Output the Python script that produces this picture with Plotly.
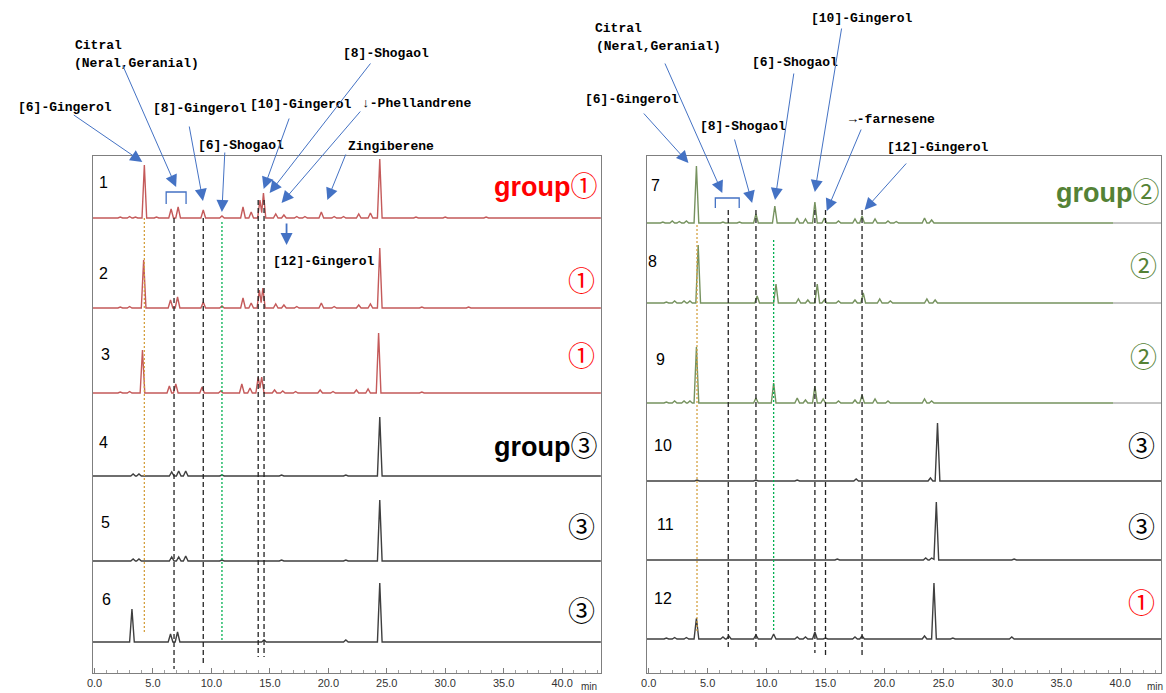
import plotly.graph_objects as go

W, H = 1166, 693

# ---------------- data: peak tables (retention time [min], peak height) ----------------
# Left panel (samples 1-6)
s1_t = [2.2, 3.0, 3.5, 4.26, 5.3, 6.55, 7.15, 9.3, 10.9, 12.7, 13.4, 14.15, 14.45, 15.5, 16.2, 17.3, 18.0, 19.4, 20.5, 21.3, 22.6, 23.6, 24.4, 27.5, 30.0, 33.5]
s1_h = [1, 1.5, 1, 53, 1, 9, 11, 8, 2, 11, 6, 18, 25, 4, 3, 1.5, 1.5, 6, 1.5, 1.5, 4, 5, 59, 1, 1, 1]
s2_t = [2.2, 3.0, 4.2, 6.5, 7.1, 9.3, 10.9, 12.7, 13.4, 14.1, 14.4, 15.5, 16.2, 17.3, 19.4, 20.5, 22.6, 23.6, 24.4, 28.0, 32.0]
s2_h = [1, 1.5, 48, 8, 11, 6, 2, 10, 5, 18, 20, 4, 3, 1.5, 5, 1.5, 3, 4, 60, 1, 1]
s3_t = [2.2, 3.0, 4.1, 6.4, 6.95, 9.2, 10.8, 12.6, 13.3, 14.0, 14.3, 15.4, 16.1, 17.2, 19.3, 20.4, 22.4, 23.4, 24.3, 28.0]
s3_h = [1, 1.5, 43, 7, 9, 6, 2, 9, 5, 16, 16, 3, 2, 1.5, 3, 1.5, 3, 4, 60, 1]
s4_t = [3.3, 3.8, 6.6, 7.2, 7.8, 10.9, 16.0, 21.5, 24.4]
s4_h = [2, 2, 4, 5, 5, 1, 1, 1, 59]
s5_t = [3.3, 3.8, 6.6, 7.2, 7.8, 10.9, 16.0, 21.5, 24.4]
s5_h = [2, 2, 4, 4, 5, 1, 1, 1, 61]
s6_t = [3.2, 6.5, 7.1, 14.5, 21.5, 24.4]
s6_h = [33, 8, 10, 2, 2, 59]

# Right panel (samples 7-12)
s7_t = [1.2, 2.0, 2.6, 3.2, 4.05, 6.3, 7.7, 9.1, 10.7, 12.6, 13.3, 14.1, 14.9, 16.1, 17.5, 18.1, 19.2, 20.3, 21.0, 23.4, 24.0]
s7_h = [1, 2, 1.5, 2, 57, 1, 1, 9, 17, 5, 4, 21, 5, 2, 4, 7, 4, 2, 1.5, 5, 3]
s8_t = [1.5, 2.2, 3.0, 3.5, 4.2, 9.2, 10.8, 12.7, 13.5, 14.3, 14.9, 16.1, 17.5, 18.2, 19.6, 20.5, 23.6, 24.3]
s8_h = [1, 2, 2, 2, 58, 7, 19, 4, 3, 19, 3, 2, 3, 10, 4, 2, 4, 3]
s9_t = [1.5, 2.2, 3.0, 3.5, 4.05, 9.1, 10.6, 12.6, 13.3, 14.1, 14.8, 16.1, 17.5, 18.1, 19.2, 20.3, 23.4, 24.0]
s9_h = [1, 2, 2, 2, 56, 5, 20, 5, 3, 17, 4, 2, 3, 8, 4, 2, 4, 2]
s10_t = [4.1, 9.1, 12.6, 17.6, 23.9, 24.5]
s10_h = [1, 1, 1, 2, 3, 58]
s11_t = [16.0, 23.5, 24.0, 24.4, 31.0]
s11_h = [1, 2, 2, 58, 1]
s12_t = [1.5, 2.2, 3.2, 4.05, 6.3, 6.8, 9.1, 10.6, 12.6, 13.3, 14.1, 15.0, 17.5, 18.1, 23.4, 24.2, 25.8, 30.8]
s12_h = [1, 1.5, 1.5, 21, 2, 3, 4, 5, 2, 2, 7, 1, 2, 3, 3, 56, 1, 2]

sample_labels = ["1", "2", "3", "4", "5", "6", "7", "8", "9", "10", "11", "12"]
group_labels = ["group①", "①", "①", "group③", "③", "③", "group②", "②", "②", "③", "③", "①"]

# marker (dashed) retention times
left_marks = [4.26, 6.8, 9.3, 10.9, 14.0, 14.5]
right_marks = [4.1, 6.75, 9.1, 10.6, 14.1, 15.0, 18.1]

tick_vals = [0, 5, 10, 15, 20, 25, 30, 35, 40]
tick_text = ["0.0", "5.0", "10.0", "15.0", "20.0", "25.0", "30.0", "35.0", "40.0"]

# ---------------- layout helpers ----------------
def px(x):
    return x / W

def py(y):
    return 1 - y / H

L_X0, L_X1, L_T0, L_PPM = 87, 598, 89, 11.75
R_X0, R_X1, R_T0, R_PPM = 644, 1161, 646, 11.85
TOP, BOT = 156, 673
l_range = [(L_X0 - L_T0) / L_PPM, (L_X1 - L_T0) / L_PPM]
r_range = [(R_X0 - R_T0) / R_PPM, (R_X1 - R_T0) / R_PPM]

left_base = [218, 308, 393, 476, 561, 642]
right_base = [223, 303, 403, 481, 560, 639]

HALF = 0.2


def chrom(ts, hs, off, xmin, xmax):
    xs, ys = [xmin], [off]
    pairs = sorted(zip(ts, hs))
    for i, (t, h) in enumerate(pairs):
        if not (i > 0 and t - pairs[i - 1][0] < 2 * HALF):
            xs.append(t - HALF); ys.append(off)
        xs.append(t); ys.append(off + h)
        if i + 1 < len(pairs) and pairs[i + 1][0] - t < 2 * HALF:
            xs.append((t + pairs[i + 1][0]) / 2)
            ys.append(off + 0.3 * min(h, pairs[i + 1][1]))
        else:
            xs.append(t + HALF); ys.append(off)
    xs.append(xmax); ys.append(off)
    return xs, ys


fig = go.Figure()

left_data = [(s1_t, s1_h), (s2_t, s2_h), (s3_t, s3_h), (s4_t, s4_h), (s5_t, s5_h), (s6_t, s6_h)]
right_data = [(s7_t, s7_h), (s8_t, s8_h), (s9_t, s9_h), (s10_t, s10_h), (s11_t, s11_h), (s12_t, s12_h)]
red_tr, green_tr, gray_tr = "#C45A5A", "#76925F", "#3F3F3F"
left_cols = [red_tr] * 3 + [gray_tr] * 3
right_cols = [green_tr] * 3 + [gray_tr] * 3

shapes = []
for i, (ts, hs) in enumerate(left_data):
    off = BOT - left_base[i]
    xs, ys = chrom(ts, hs, off, l_range[0], l_range[1])
    fig.add_trace(go.Scatter(x=xs, y=ys, mode="lines", line=dict(color=left_cols[i], width=1.4),
                             xaxis="x", yaxis="y", showlegend=False, hoverinfo="skip"))
for i, (ts, hs) in enumerate(right_data):
    off = BOT - right_base[i]
    xend = 39.4 if i < 3 else r_range[1]
    xs, ys = chrom(ts, hs, off, r_range[0], xend)
    if i < 3:
        shapes.append(dict(type="line", xref="x2", yref="y2", x0=xend, x1=r_range[1], y0=off, y1=off,
                           line=dict(color="#8C8C8C", width=1)))
    fig.add_trace(go.Scatter(x=xs, y=ys, mode="lines", line=dict(color=right_cols[i], width=1.4),
                             xaxis="x2", yaxis="y2", showlegend=False, hoverinfo="skip"))

# vertical reference lines (pixel extents)
left_mark_style = [("#D4A040", "2px,2px", 218, 633), ("#222222", "5px,3px", 218, 669),
                   ("#222222", "5px,3px", 218, 665), ("#00B050", "2px,2px", 222, 640),
                   ("#222222", "5px,3px", 200, 657), ("#222222", "5px,3px", 200, 657)]
right_mark_style = [("#D4A040", "2px,2px", 225, 632), ("#222222", "5px,3px", 210, 649),
                    ("#222222", "5px,3px", 210, 649), ("#00B050", "2px,2px", 240, 630),
                    ("#222222", "5px,3px", 210, 653), ("#222222", "5px,3px", 210, 656),
                    ("#222222", "5px,3px", 210, 658)]
for t, (c, d, y0, y1) in zip(left_marks, left_mark_style):
    shapes.append(dict(type="line", xref="x", yref="paper", x0=t, x1=t, y0=py(y0), y1=py(y1),
                       line=dict(color=c, width=1.3, dash=d)))
for t, (c, d, y0, y1) in zip(right_marks, right_mark_style):
    shapes.append(dict(type="line", xref="x2", yref="paper", x0=t, x1=t, y0=py(y0), y1=py(y1),
                       line=dict(color=c, width=1.3, dash=d)))

# brackets for citral
blue = "#4472C4"
for (xa, xb, yt, yb) in [(161, 181, 192, 204), (713, 737, 198, 208)]:
    shapes.append(dict(type="path", xref="paper", yref="paper",
                       path=f"M {px(xa)},{py(yb)} L {px(xa)},{py(yt)} L {px(xb)},{py(yt)} L {px(xb)},{py(yb)}",
                       line=dict(color=blue, width=1.3)))

annotations = []
lab_font = dict(family="Liberation Mono, DejaVu Sans Mono, monospace", size=13, color="#000000",
                weight="bold")
labels = [
    ("Citral", 67, 45), ("(Neral,Geranial)", 66, 63), ("[6]-Gingerol", 10, 107),
    ("[8]-Gingerol", 146, 108), ("[10]-Gingerol", 243, 105), ("[8]-Shogaol", 337, 53),
    ("↓-Phellandrene", 356, 103), ("[6]-Shogaol", 191, 145), ("Zingiberene", 342, 146),
    ("[12]-Gingerol", 266, 261),
    ("Citral", 590, 28), ("(Neral,Geranial)", 591, 46), ("[6]-Gingerol", 580, 100),
    ("[8]-Shogaol", 696, 127), ("[6]-Shogaol", 748, 62), ("[10]-Gingerol", 807, 18),
    ("→-farnesene", 845, 119), ("[12]-Gingerol", 884, 148),
]
for txt, x, y in labels:
    annotations.append(dict(text=txt, x=px(x), y=py(y), xref="paper", yref="paper", xanchor="left",
                            yanchor="middle", showarrow=False, font=lab_font))

# arrows: (tail_x, tail_y, head_x, head_y, width)
arrows = [
    (67, 114, 137, 162, 1), (117, 64, 171, 187, 1), (184, 125, 198, 201, 1), (220, 151, 217, 212, 1),
    (285, 117, 259, 189, 1), (367, 62, 265, 193, 1), (357, 110, 277, 203, 1), (342, 153, 323, 200, 1),
    (282, 222, 282, 245, 1.8),
    (640, 112, 686, 163, 1), (662, 62, 720, 193, 1), (732, 138, 750, 203, 1), (792, 72, 773, 200, 1),
    (840, 27, 813, 192, 1), (860, 128, 825, 211, 1), (906, 162, 863, 210, 1),
]
for tx, ty, hx, hy, wd in arrows:
    annotations.append(dict(text="", x=px(hx), y=py(hy), xref="paper", yref="paper",
                            ax=tx - hx, ay=ty - hy, axref="pixel", ayref="pixel",
                            showarrow=True, arrowhead=2, arrowsize=2.4 / wd, arrowwidth=wd,
                            arrowcolor=blue, standoff=0))

# sample numbers
num_font = dict(family="Liberation Sans, Arial", size=16, color="#000000")
num_pos = [(98, 182), (98, 273), (100, 354), (98, 442), (100, 522), (101, 599),
           (653, 185), (650, 262), (658, 360), (660, 445), (663, 524), (660, 598)]
for s, (x, y) in zip(sample_labels, num_pos):
    annotations.append(dict(text=s, x=px(x), y=py(y), xref="paper", yref="paper", xanchor="center",
                            yanchor="middle", showarrow=False, font=num_font))

# group labels
grp_colors = ["#FF0000"] * 3 + ["#000000"] * 3 + ["#548235"] * 3 + ["#000000"] * 2 + ["#FF0000"]
grp_pos = [(596, 187), (594, 282), (594, 357), (596, 447), (594, 528), (594, 612),
           (1161, 193), (1159, 267), (1159, 358), (1157, 447), (1157, 528), (1157, 604)]
for g, c, (x, y) in zip(group_labels, grp_colors, grp_pos):
    if g.startswith("group"):
        txt = "<b>group</b>" + g[5:]
    else:
        txt = g
    annotations.append(dict(text=txt, x=px(x), y=py(y), xref="paper", yref="paper", xanchor="right",
                            yanchor="middle", showarrow=False,
                            font=dict(family="Liberation Sans, Noto Sans CJK JP", size=27, color=c)))

# "min" axis unit
for x in (586, 1155):
    annotations.append(dict(text="min", x=px(x), y=py(686), xref="paper", yref="paper", xanchor="center",
                            yanchor="middle", showarrow=False,
                            font=dict(family="Liberation Sans", size=10, color="#333333")))

xax = dict(showline=True, linecolor="#7F7F7F", linewidth=1.2, mirror=True, showgrid=False, zeroline=False,
           tickvals=tick_vals, ticktext=tick_text, ticks="inside", ticklen=5, tickcolor="#7F7F7F",
           minor=dict(dtick=1, ticks="inside", ticklen=3, tickcolor="#9F9F9F"),
           tickfont=dict(family="Liberation Sans", size=11, color="#333333"), fixedrange=True)
yax = dict(showline=True, linecolor="#7F7F7F", linewidth=1.2, mirror=True, showgrid=False, zeroline=False,
           showticklabels=False, ticks="", range=[0, BOT - TOP], domain=[py(BOT), py(TOP)], fixedrange=True)

fig.update_layout(
    width=W, height=H, margin=dict(l=0, r=0, t=0, b=0),
    paper_bgcolor="white", plot_bgcolor="white",
    xaxis=dict(xax, domain=[px(L_X0), px(L_X1)], range=l_range, anchor="y"),
    yaxis=dict(yax, anchor="x"),
    xaxis2=dict(xax, domain=[px(R_X0), px(R_X1)], range=r_range, anchor="y2"),
    yaxis2=dict(yax, anchor="x2"),
    shapes=shapes, annotations=annotations, showlegend=False,
)

fig.write_html("out.html", config={"displayModeBar": False},
               post_script="document.body.style.margin='0px';document.body.style.padding='0px';"
                           "document.documentElement.style.overflow='hidden';")
